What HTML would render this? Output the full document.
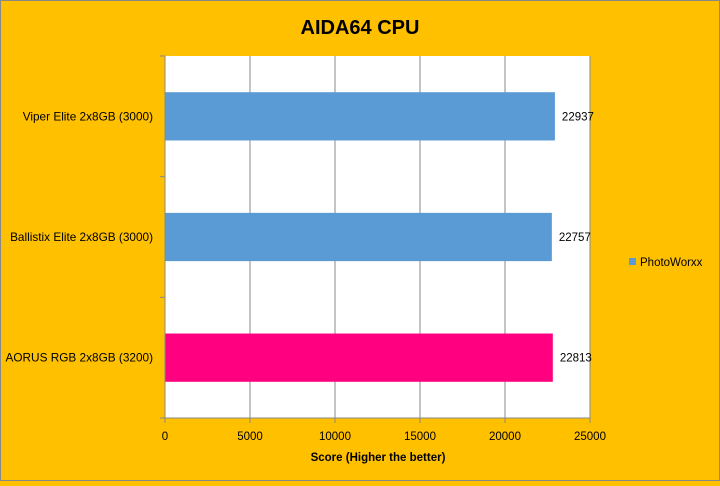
<!DOCTYPE html>
<html><head><meta charset="utf-8"><style>
body{margin:0;width:720px;height:481px;overflow:hidden;background:#FFC000;font-family:"Liberation Sans",sans-serif}
</style></head><body>
<svg width="720" height="481" xmlns="http://www.w3.org/2000/svg" id="chart">
<rect x="0.5" y="0.5" width="719" height="480" fill="#FFC000" stroke="#888"/>
<text x="360" y="34" text-anchor="middle" font-size="20" font-weight="bold" fill="#000">AIDA64 CPU</text>
<rect x="165" y="56" width="425" height="362" fill="#fff"/>
<g id="grid"></g><g id="bars"></g><g id="axes"></g>
<text x="378" y="461" text-anchor="middle" font-size="11.5" font-weight="bold">Score (Higher the better)</text>
<rect x="629" y="258" width="7" height="7" fill="#5B9BD5"/>
<text x="640" y="266" font-size="11.5">PhotoWorxx</text>
</svg>
<script>
const categories=["Viper Elite 2x8GB (3000)","Ballistix Elite 2x8GB (3000)","AORUS RGB 2x8GB (3200)"];
const values=[22937,22757,22813];
const colors=["#5B9BD5","#5B9BD5","#FF0080"];
const ticks=[0,5000,10000,15000,20000,25000];
const X0=165,X1=590,Y0=56,Y1=418,MAX=25000;
const NS="http://www.w3.org/2000/svg";
const xs=v=>X0+(X1-X0)*v/MAX;
const band=(Y1-Y0)/categories.length;
function mk(t,a,p,txt){const e=document.createElementNS(NS,t);for(const k in a)e.setAttribute(k,a[k]);if(txt!==undefined)e.textContent=txt;p.appendChild(e);return e;}
const g=document.getElementById('grid'),b=document.getElementById('bars'),ax=document.getElementById('axes');
ticks.forEach(t=>{
 const x=xs(t);
 const l=mk('line',{x1:x,x2:x,y1:Y0,y2:Y1+5,stroke:'#888','stroke-width':1},g);
 
 
 const tx=mk('text',{x:x,y:Y1+22,'text-anchor':'middle','font-size':11.5},ax,String(t));
 
 
});
const xl=mk('line',{x1:X0,x2:X1,y1:Y1,y2:Y1,stroke:'#888'},ax);


for(let i=0;i<=categories.length;i++){
 const y=Y0+band*i;
 const tk=mk('line',{x1:X0-5,x2:X0,y1:y,y2:y,stroke:'#888'},ax);
 
 
}
categories.forEach((c,i)=>{
 const cy=Y0+band*(i+0.5),h=band*0.4;
 const r=mk('rect',{x:X0,y:cy-h/2,width:xs(values[i])-X0,height:h,fill:colors[i]},b);
 
 
 const vl=mk('text',{x:xs(values[i])+7,y:cy+4,'font-size':11.5},b,String(values[i]));
 
 
 const cl=mk('text',{x:X0-12,y:cy+4,'text-anchor':'end','font-size':11.8},ax,c);
 
 
});
const yl=mk('line',{x1:X0,x2:X0,y1:Y0,y2:Y1,stroke:'#888'},ax);


</script>
</body></html>
